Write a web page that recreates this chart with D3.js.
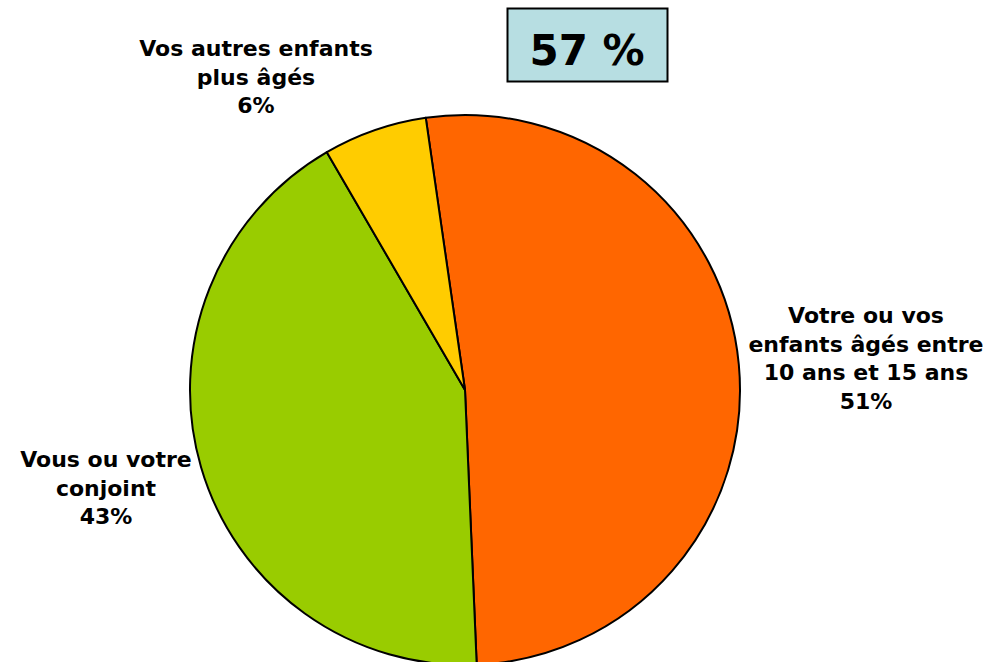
<!DOCTYPE html>
<html>
<head>
<meta charset="utf-8">
<script src="https://cdn.jsdelivr.net/npm/d3@7"></script>
<style>
  body { margin: 0; background: #fff; }
  svg { display: block; }
  text { font-family: "DejaVu Sans", Verdana, sans-serif; font-weight: bold; fill: #000; }
</style>
</head>
<body>
<svg width="987" height="662"></svg>
<script>
// slice data (angles), clockwise from the top
const categories = [
  "Votre ou vos enfants âgés entre 10 ans et 15 ans",
  "Vous ou votre conjoint",
  "Vos autres enfants plus âgés"
];
const values = [51.6, 42.3, 6.1];
const percentLabels = ["51%", "43%", "6%"];
const labelLines = [
  ["Votre ou vos", "enfants âgés entre", "10 ans et 15 ans"],
  ["Vous ou votre", "conjoint"],
  ["Vos autres enfants", "plus âgés"]
];
const colors = ["#FF6600", "#99CC00", "#FFCC00"];
const headline = "57 %";

const width = 987;
const height = 662;
const cx = 465;
const cy = 390;
const radius = 275;
const lineHeight = 28.5;

// label anchor centres (x) and first baseline (y)
const labelPos = [
  [866, 323],
  [106, 467],
  [256, 56]
];

const svg = d3.select("svg");

const pie = d3.pie()
  .sort(null)
  .value(d => d)
  .startAngle(-8.2 * Math.PI / 180)
  .endAngle(-8.2 * Math.PI / 180 + 2 * Math.PI);

const arc = d3.arc()
  .innerRadius(0)
  .outerRadius(radius);

const g = svg.append("g")
  .attr("transform", `translate(${cx},${cy})`);

g.selectAll("path")
  .data(pie(values))
  .join("path")
    .attr("d", arc)
    .attr("fill", (d, i) => colors[i])
    .attr("stroke", "#000")
    .attr("stroke-width", 2)
    .attr("stroke-linejoin", "round");

// slice labels
categories.forEach((c, i) => {
  const lines = labelLines[i].concat([percentLabels[i]]);
  const t = svg.append("text")
    .attr("text-anchor", "middle")
    .attr("font-size", 22);
  lines.forEach((l, j) => {
    t.append("tspan")
      .attr("x", labelPos[i][0])
      .attr("y", labelPos[i][1] + j * lineHeight)
      .text(l);
  });
});

// headline box
svg.append("rect")
  .attr("x", 507.5)
  .attr("y", 8.5)
  .attr("width", 160)
  .attr("height", 73)
  .attr("fill", "#B7DEE2")
  .attr("stroke", "#000")
  .attr("stroke-width", 2);

svg.append("text")
  .attr("x", 587)
  .attr("y", 65)
  .attr("text-anchor", "middle")
  .attr("font-size", 42)
  .text(headline);
</script>
</body>
</html>
